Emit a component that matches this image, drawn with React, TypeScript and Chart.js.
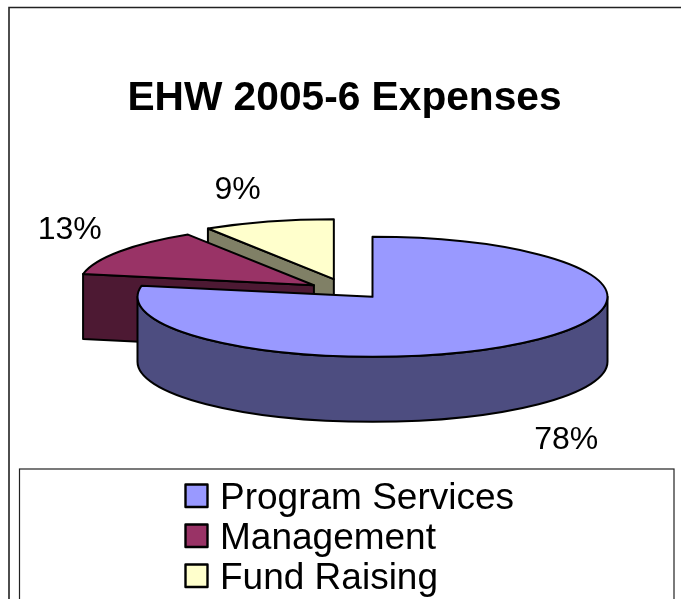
import React, { useEffect, useRef } from "react";
import { Chart, registerables } from "chart.js";

Chart.register(...registerables);

const categories = ["Program Services", "Management", "Fund Raising"];
const expenseShares = [78, 13, 9];
const faceColors = ["#9999FF", "#993366", "#FFFFCC"];
const wallColors = ["#4D4D80", "#4D1933", "#808066"];
const titleText = "EHW 2005-6 Expenses";

const INK = "#000000";
const CX = 347;
const CY = 289;
const RX = 235;
const RY = 60;
const DEPTH = 65;
const EXPLODE = 40;
const SLICE_NUDGE = [
  [0, 0],
  [0, 2],
  [-2, 0],
];
const LABEL_FACTOR = 1.3;
const LABEL_SHIFT = [
  [-1, 83],
  [8.5, -11],
  [-11, -14],
];
const FONT = "'Liberation Sans', Arial, sans-serif";

const pie3d = {
  id: "pie3d",
  beforeDraw(chart: any) {
    const { ctx } = chart;
    ctx.save();
    ctx.fillStyle = "#ffffff";
    ctx.fillRect(0, 0, chart.width, chart.height);
    ctx.strokeStyle = "#222222";
    ctx.lineWidth = 1.6;
    ctx.beginPath();
    ctx.moveTo(9, 700);
    ctx.lineTo(9, 7.5);
    ctx.lineTo(681, 7.5);
    ctx.stroke();
    ctx.lineWidth = 1.2;
    ctx.strokeRect(19.5, 469, 654.5, 200);
    ctx.restore();
  },
  afterLayout(chart: any) {
    const legend = chart.legend;
    legend.left = 198.5;
    legend.right = 670;
    legend.top = 477;
    legend.bottom = 720;
    legend.width = legend.right - legend.left;
    legend.height = legend.bottom - legend.top;
  },
  beforeDatasetsDraw(chart: any) {
    const { ctx } = chart;
    const meta = chart.getDatasetMeta(0);
    const arcs: any[] = meta.data;
    const order = arcs.map((_, i) => i).reverse();
    const centerOf = (el: any, i: number) => {
      const mid = (el.startAngle + el.endAngle) / 2;
      return {
        mid,
        x: CX + Math.cos(mid) * EXPLODE + SLICE_NUDGE[i][0],
        y: CY + Math.sin(mid) * EXPLODE * (RY / RX) + SLICE_NUDGE[i][1],
      };
    };
    const wallFace = (c: any, a: number, color: string) => {
      const px = c.x + Math.cos(a) * RX;
      const py = c.y + Math.sin(a) * RY;
      ctx.beginPath();
      ctx.moveTo(c.x, c.y);
      ctx.lineTo(px, py);
      ctx.lineTo(px, py + DEPTH);
      ctx.lineTo(c.x, c.y + DEPTH);
      ctx.closePath();
      ctx.fillStyle = color;
      ctx.fill();
      ctx.stroke();
    };

    ctx.save();
    ctx.lineWidth = 2;
    ctx.lineJoin = "round";
    ctx.strokeStyle = INK;
    order.forEach((i) => {
      const el = arcs[i];
      const c = centerOf(el, i);
      const wall = wallColors[i];
      if (-Math.cos(el.startAngle) > 1e-6) wallFace(c, el.startAngle, wall);
      if (Math.cos(el.endAngle) > 1e-6) wallFace(c, el.endAngle, wall);
      const from = Math.max(el.startAngle, 0);
      const to = Math.min(el.endAngle, Math.PI);
      if (to > from) {
        ctx.beginPath();
        ctx.ellipse(c.x, c.y, RX, RY, 0, from, to);
        ctx.ellipse(c.x, c.y + DEPTH, RX, RY, 0, to, from, true);
        ctx.closePath();
        ctx.fillStyle = wall;
        ctx.fill();
        ctx.stroke();
      }
      ctx.save();
      ctx.translate(c.x, c.y);
      ctx.scale(RX / el.outerRadius, RY / el.outerRadius);
      ctx.translate(-el.x, -el.y);
      el.draw(ctx);
      ctx.restore();
      ctx.beginPath();
      ctx.moveTo(c.x, c.y);
      ctx.ellipse(c.x, c.y, RX, RY, 0, el.startAngle, el.endAngle);
      ctx.closePath();
      ctx.stroke();
    });

    const total = expenseShares.reduce((a, b) => a + b, 0);
    ctx.fillStyle = INK;
    ctx.font = `32px ${FONT}`;
    ctx.textAlign = "center";
    ctx.textBaseline = "middle";
    arcs.forEach((el, i) => {
      const c = centerOf(el, i);
      const x = c.x + Math.cos(c.mid) * RX * LABEL_FACTOR + LABEL_SHIFT[i][0];
      const y = c.y + Math.sin(c.mid) * RY * LABEL_FACTOR + LABEL_SHIFT[i][1];
      ctx.fillText(`${Math.round((expenseShares[i] / total) * 100)}%`, x, y);
    });

    // Legend swatches, aligned to the rows the legend lays out
    const legend = chart.legend;
    const items = legend.legendItems || [];
    const padding = legend.options.labels.padding;
    const rowHeight = legend.options.labels.font.size + padding;
    ctx.lineWidth = 2.4;
    items.forEach((item: any, i: number) => {
      const y = legend.top + padding + i * rowHeight + 4.5;
      ctx.fillStyle = item.fillStyle;
      ctx.fillRect(185.5, y, 22, 22.5);
      ctx.strokeRect(185.5, y, 22, 22.5);
    });
    ctx.restore();
    return false;
  },
};

export default function App() {
  const ref = useRef<HTMLCanvasElement | null>(null);
  useEffect(() => {
    const chart = new Chart(ref.current as HTMLCanvasElement, {
      type: "pie",
      data: {
        labels: categories,
        datasets: [
          {
            data: expenseShares,
            backgroundColor: faceColors,
            borderWidth: 0,
          },
        ],
      },
      options: {
        responsive: false,
        animation: false,
        layout: { padding: { left: 8 } },
        plugins: {
          tooltip: { enabled: false },
          title: {
            display: true,
            text: titleText,
            color: INK,
            font: { family: FONT, size: 40.7, weight: "bold", lineHeight: 1 },
            padding: { top: 78, bottom: 10 },
          },
          legend: {
            display: true,
            position: "chartArea",
            align: "start",
            labels: {
              boxWidth: 0,
              boxHeight: 0,
              padding: 3,
              color: INK,
              font: { family: FONT, size: 37, lineHeight: 1 },
            },
          },
        },
      },
      plugins: [pie3d],
    } as any);
    return () => chart.destroy();
  }, []);
  return (
    <canvas
      ref={ref}
      width={681}
      height={599}
      style={{ position: "absolute", left: 0, top: 0, display: "block" }}
    />
  );
}
